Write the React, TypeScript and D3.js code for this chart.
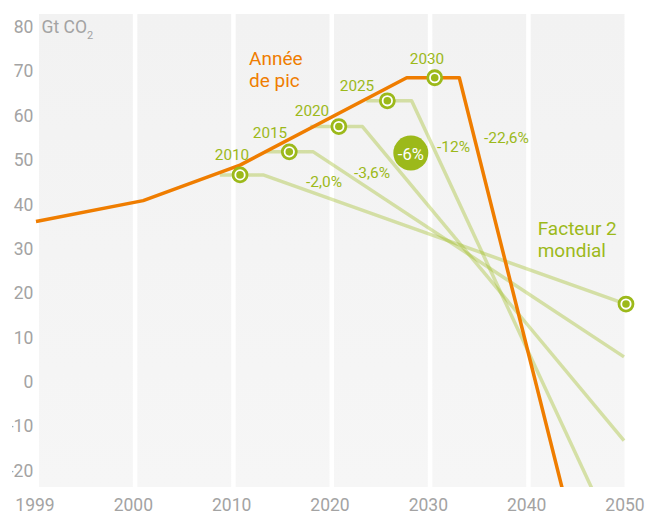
import { useMemo } from 'react';
import * as d3 from 'd3';

// emissions path of the world (orange) – [year, Gt CO2]
const peakPath: [number, number][] = [
  [1990.1, 36.1],
  [2001.0, 40.8],
  [2010.85, 48.8],
  [2027.8, 68.5],
  [2033.15, 68.5],
  [2043.6, -23.9],
];

// reduction paths by peak year (light green)
const peakYears = ['2010', '2015', '2020', '2025', '2030'];
const peakMarkers: [number, number][] = [
  [2010.85, 46.6],
  [2015.86, 51.8],
  [2020.9, 57.5],
  [2025.83, 63.3],
  [2030.65, 68.5],
];
const reductionPaths: [number, number][][] = [
  [[2008.8, 46.6], [2013.2, 46.6], [2050.1, 17.5]],
  [[2013.4, 51.8], [2018.3, 51.8], [2049.9, 5.6]],
  [[2018.0, 57.5], [2023.3, 57.5], [2049.9, -13.3]],
  [[2023.7, 63.3], [2028.3, 63.3], [2046.6, -23.9]],
];
const factor2Marker: [number, number] = [2050.1, 17.5];

const xTickYears = [1990, 2000, 2010, 2020, 2030, 2040, 2050];
const xTickLabels = ['1999', '2000', '2010', '2020', '2030', '2040', '2050'];
const yTicks = [80, 70, 60, 50, 40, 30, 20, 10, 0, -10, -20];

const W = 647;
const H = 513;
const plotTop = 14;
const plotBottom = 487;

const ORANGE = '#ef7d00';
const GREEN = '#9cb91a';
const GRAY = '#a3a3a3';
const FONT = 'Roboto, "Noto Sans", sans-serif';

export default function App() {
  const x = useMemo(() => d3.scaleLinear().domain([1990, 2050]).range([35, 625]), []);
  const y = useMemo(() => d3.scaleLinear().domain([-20, 80]).range([470.45, 26.7]), []);
  const line = d3
    .line<[number, number]>()
    .x((d) => x(d[0]))
    .y((d) => y(d[1]));

  const Marker = ({ p }: { p: [number, number] }) => (
    <g transform={`translate(${x(p[0])},${y(p[1])})`}>
      <circle r={7} fill="#fff" stroke={GREEN} strokeWidth={2.8} />
      <circle r={3.8} fill={GREEN} />
    </g>
  );

  return (
    <svg
      width={W}
      height={H}
      style={{ position: 'absolute', left: 0, top: 0, fontFamily: FONT }}
    >
      <defs>
        <clipPath id="plotClip">
          <rect x={0} y={plotTop} width={W} height={plotBottom - plotTop} />
        </clipPath>
        <clipPath id="yLabelClip">
          <rect x={12} y={0} width={40} height={H} />
        </clipPath>
        <linearGradient id="panelFill" x1="0" y1="0" x2="0" y2="1">
          <stop offset="0%" stopColor="#f2f2f2" />
          <stop offset="100%" stopColor="#f6f6f6" />
        </linearGradient>
      </defs>

      {/* background panels between decades */}
      {xTickYears.slice(0, -1).map((t, i) => (
        <rect
          key={t}
          x={x(t) + 4}
          y={plotTop}
          width={x(xTickYears[i + 1]) - x(t) - 4.5}
          height={plotBottom - plotTop}
          fill="url(#panelFill)"
        />
      ))}

      {/* y axis */}
      <g clipPath="url(#yLabelClip)">
        {yTicks.map((v) => (
          <text
            key={v}
            x={33.3}
            y={y(v) + 6.3}
            textAnchor="end"
            fontSize={17.5}
            fill={GRAY}
          >
            {v}
          </text>
        ))}
      </g>
      <text x={41.5} y={33.3} fontSize={17.5} fill={GRAY}>
        Gt CO
        <tspan fontSize={11} dy={6}>2</tspan>
      </text>

      {/* x axis */}
      {xTickYears.map((t, i) => (
        <text key={t} x={x(t)} y={511} textAnchor="middle" fontSize={17.5} fill={GRAY}>
          {xTickLabels[i]}
        </text>
      ))}

      <g clipPath="url(#plotClip)">
        {reductionPaths.map((p, i) => (
          <path
            key={i}
            d={line(p) ?? ''}
            fill="none"
            stroke={GREEN}
            strokeOpacity={0.36}
            strokeWidth={3.5}
            strokeLinejoin="round"
          />
        ))}
        <path
          d={line(peakPath) ?? ''}
          fill="none"
          stroke={ORANGE}
          strokeWidth={3.5}
          strokeLinejoin="round"
        />
      </g>

      {peakMarkers.map((p, i) => (
        <Marker key={peakYears[i]} p={p} />
      ))}
      <Marker p={factor2Marker} />

      {/* peak year labels */}
      <g fontSize={15.3} fill={GREEN} textAnchor="middle">
        <text x={232} y={160}>{peakYears[0]}</text>
        <text x={270} y={138}>{peakYears[1]}</text>
        <text x={312} y={116}>{peakYears[2]}</text>
        <text x={357} y={91}>{peakYears[3]}</text>
        <text x={427} y={64}>{peakYears[4]}</text>
      </g>

      {/* reduction rates */}
      <g fontSize={15.5} fill={GREEN}>
        <text x={306} y={187}>-2,0%</text>
        <text x={354} y={178}>-3,6%</text>
        <text x={437} y={151.5}>-12%</text>
        <text x={484} y={143}>-22,6%</text>
      </g>
      <circle cx={410.8} cy={153} r={17.5} fill={GREEN} />
      <text x={410.8} y={159.5} textAnchor="middle" fontSize={16.5} fill="#fff">
        -6%
      </text>

      <g fontSize={19} fill={ORANGE}>
        <text x={249} y={65}>Année</text>
        <text x={249} y={87}>de pic</text>
      </g>
      <g fontSize={19} fill={GREEN}>
        <text x={537.7} y={235}>Facteur 2</text>
        <text x={537.7} y={257}>mondial</text>
      </g>
    </svg>
  );
}
